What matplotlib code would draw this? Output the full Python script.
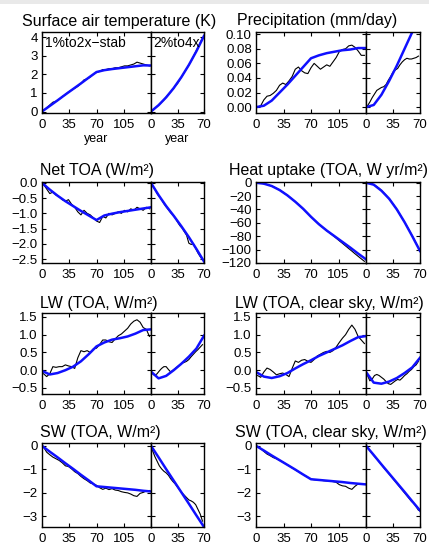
import matplotlib
matplotlib.use("Agg")
import matplotlib.pyplot as plt
from matplotlib.patches import Rectangle

plt.rcParams['font.family'] = ['Liberation Sans', 'DejaVu Sans']

# years: fitted curves every 10 yr, model output every 4 / 3 yr
yr_fit_a = [0, 10, 20, 30, 40, 50, 60, 70, 80, 90, 100, 110, 120, 130, 140]
yr_fit_b = [0, 10, 20, 30, 40, 50, 60, 70]
yr_raw_a = [2, 6, 10, 14, 18, 22, 26, 30, 34, 38, 42, 46, 50, 54, 58, 62, 66, 70,
            74, 78, 82, 86, 90, 94, 98, 102, 106, 110, 114, 118, 122, 126, 130, 134, 138]
yr_raw_b = [2, 5, 8, 11, 14, 17, 20, 23, 26, 29, 32, 35, 38, 41, 44, 47, 50, 53, 56, 59, 62, 65, 68]

# Surface air temperature
tas_fit_a = [0, 0.3, 0.6, 0.91, 1.21, 1.51, 1.82, 2.12, 2.22, 2.28, 2.33, 2.38, 2.43, 2.48, 2.47]
tas_fit_b = [0, 0.34, 0.76, 1.26, 1.84, 2.5, 3.24, 4.06]
tas_raw_a = [0.05, 0.2, 0.35, 0.5, 0.55, 0.65, 0.8, 0.9, 1.05, 1.15, 1.25, 1.35, 1.5, 1.7, 1.75, 1.85, 2.0, 2.1,
             2.15, 2.25, 2.25, 2.3, 2.3, 2.35, 2.35, 2.4, 2.45, 2.45, 2.5, 2.55, 2.65, 2.6, 2.55, 2.5, 2.45]
tas_raw_b = [0.06, 0.16, 0.27, 0.38, 0.5, 0.62, 0.78, 0.92, 1.05, 1.2, 1.38, 1.5, 1.7, 1.9, 2.1, 2.3, 2.5,
             2.7, 2.95, 3.2, 3.45, 3.7, 3.95]

# Precipitation
pr_fit_a = [0, 0.002, 0.009, 0.02, 0.031, 0.043, 0.055, 0.067, 0.071, 0.074, 0.076, 0.078, 0.079, 0.081, 0.081]
pr_fit_b = [0, 0.003, 0.017, 0.036, 0.057, 0.08, 0.103, 0.126]
pr_raw_a = [0.0, 0.002, 0.01, 0.015, 0.016, 0.019, 0.023, 0.03, 0.033, 0.031, 0.036, 0.042, 0.052, 0.055,
            0.05, 0.047, 0.046, 0.054, 0.06, 0.056, 0.052, 0.055, 0.058, 0.056, 0.062, 0.068, 0.076, 0.079,
            0.08, 0.084, 0.085, 0.082, 0.077, 0.071, 0.071]
pr_raw_b = [0.002, 0.007, 0.013, 0.018, 0.023, 0.025, 0.027, 0.028, 0.031, 0.037, 0.042, 0.048, 0.051,
            0.053, 0.058, 0.062, 0.065, 0.067, 0.066, 0.066, 0.067, 0.068, 0.07]

# Net TOA
net_fit_a = [0, -0.22, -0.42, -0.6, -0.76, -0.92, -1.07, -1.22, -1.07, -1.01, -0.96, -0.92, -0.88, -0.84, -0.8]
net_fit_b = [0, -0.4, -0.76, -1.08, -1.42, -1.78, -2.17, -2.58]
net_raw_a = [-0.05, -0.2, -0.35, -0.3, -0.4, -0.45, -0.55, -0.6, -0.55, -0.7, -0.8, -0.95, -1.05, -0.9, -1.0,
             -1.05, -1.15, -1.25, -1.3, -1.1, -1.15, -1.0, -1.05, -1.0, -0.95, -1.0, -0.9, -0.95, -0.85, -0.9,
             -0.8, -0.85, -0.9, -0.8, -0.85]
net_raw_b = [-0.08, -0.2, -0.35, -0.45, -0.55, -0.68, -0.78, -0.88, -0.98, -1.05, -1.15, -1.28, -1.4, -1.48,
             -1.6, -1.72, -1.98, -2.02, -2.0, -2.15, -2.3, -2.42, -2.52]

# Heat uptake
hu_fit_a = [0, -1.5, -5, -11, -19, -28.5, -39, -51, -62, -71.5, -80, -88.5, -97, -106, -114.5]
hu_fit_b = [0, -3, -12, -24, -40, -59, -80, -102]
hu_raw_a = [0, -0.6, -1.5, -2.8, -4.2, -6, -8.4, -11, -14, -17.3, -20.8, -24.6, -28.5, -32.6, -36.8, -41.3,
            -46, -50.8, -55.3, -59.9, -64, -67.8, -71.7, -75.3, -79, -82.8, -86.8, -90.6, -94.5, -98.4,
            -102.2, -106.2, -110, -113.8, -117.5]
hu_raw_b = [-0.1, -0.7, -1.8, -3.6, -5.8, -8.4, -11.6, -15, -18.8, -22.8, -27, -31.6, -36.6, -42, -47.6,
            -53.3, -59, -65, -71, -77.6, -84, -90.6, -97.5]

# LW (TOA)
lw_fit_a = [-0.02, -0.12, -0.08, 0.0, 0.1, 0.25, 0.45, 0.67, 0.78, 0.86, 0.9, 0.95, 1.03, 1.13, 1.15]
lw_fit_b = [-0.04, -0.23, -0.16, 0.0, 0.18, 0.38, 0.61, 0.97]
lw_raw_a = [-0.1, -0.18, -0.1, 0.1, 0.08, 0.1, 0.1, 0.15, 0.12, 0.1, 0.05, 0.35, 0.55, 0.52, 0.55, 0.5, 0.6,
            0.62, 0.72, 0.85, 0.85, 0.8, 0.78, 0.88, 0.97, 1.02, 1.1, 1.18, 1.3, 1.38, 1.42, 1.35, 1.2, 1.15, 0.95]
lw_raw_b = [-0.1, -0.15, -0.1, -0.02, 0.05, 0.1, 0.1, 0.02, -0.05, 0.0, 0.05, 0.1, 0.15, 0.2, 0.22, 0.25,
            0.3, 0.38, 0.45, 0.52, 0.58, 0.65, 0.72]

# LW (TOA, clear sky)
lwcs_fit_a = [-0.05, -0.18, -0.22, -0.17, -0.08, 0.05, 0.17, 0.28, 0.4, 0.5, 0.6, 0.7, 0.82, 0.93, 0.96]
lwcs_fit_b = [-0.05, -0.35, -0.38, -0.32, -0.22, -0.08, 0.08, 0.35]
lwcs_raw_a = [-0.15, -0.2, -0.05, 0.06, 0.02, -0.05, -0.13, -0.1, -0.08, -0.12, -0.18, 0.05, 0.26, 0.22,
              0.28, 0.3, 0.25, 0.22, 0.3, 0.4, 0.45, 0.5, 0.53, 0.5, 0.55, 0.65, 0.78, 0.9, 1.0, 1.15, 1.27,
              1.15, 0.95, 0.85, 0.75]
lwcs_raw_b = [-0.15, -0.3, -0.25, -0.15, -0.12, -0.15, -0.2, -0.25, -0.32, -0.38, -0.4, -0.35, -0.3, -0.26,
              -0.28, -0.22, -0.15, -0.1, -0.03, 0.02, 0.1, 0.15, 0.25]

# SW (TOA)
sw_fit_a = [0, -0.25, -0.49, -0.74, -0.98, -1.23, -1.47, -1.72, -1.75, -1.78, -1.81, -1.84, -1.87, -1.91, -1.94]
sw_fit_b = [0, -0.49, -0.99, -1.48, -1.97, -2.46, -2.96, -3.45]
sw_raw_a = [-0.05, -0.27, -0.38, -0.48, -0.55, -0.62, -0.72, -0.85, -0.88, -0.98, -1.1, -1.18, -1.3, -1.4,
            -1.48, -1.58, -1.62, -1.68, -1.78, -1.85, -1.8, -1.86, -1.82, -1.88, -1.9, -1.95, -1.98, -2.0,
            -2.05, -2.12, -2.15, -2.02, -1.98, -1.92, -1.9]
sw_raw_b = [-0.2, -0.45, -0.65, -0.85, -0.98, -1.08, -1.15, -1.25, -1.4, -1.52, -1.62, -1.75, -1.88, -2.0,
            -2.1, -2.2, -2.3, -2.34, -2.4, -2.5, -2.7, -2.9, -3.2]

# SW (TOA, clear sky)
swcs_fit_a = [0, -0.2, -0.41, -0.61, -0.81, -1.01, -1.22, -1.42, -1.45, -1.48, -1.51, -1.54, -1.58, -1.61, -1.64]
swcs_fit_b = [0, -0.39, -0.79, -1.18, -1.57, -1.96, -2.36, -2.75]
swcs_raw_a = [-0.04, -0.12, -0.24, -0.35, -0.42, -0.5, -0.55, -0.62, -0.69, -0.77, -0.85, -0.94, -1.02,
              -1.1, -1.18, -1.26, -1.34, -1.42, -1.44, -1.45, -1.46, -1.48, -1.49, -1.5, -1.52, -1.55,
              -1.65, -1.7, -1.72, -1.8, -1.85, -1.72, -1.62, -1.62, -1.64]
swcs_raw_b = [-0.08, -0.2, -0.33, -0.45, -0.56, -0.68, -0.8, -0.93, -1.05, -1.16, -1.28, -1.4, -1.52, -1.64,
              -1.76, -1.88, -2.0, -2.12, -2.24, -2.36, -2.44, -2.58, -2.74]

# tick labels
xticks_a = [0, 35, 70, 105]
xticks_b = [0, 35, 70]
tas_ticks = [0, 1, 2, 3, 4]
pr_ticks = [0.0, 0.02, 0.04, 0.06, 0.08, 0.10]
net_ticks = [0.0, -0.5, -1.0, -1.5, -2.0, -2.5]
hu_ticks = [0, -20, -40, -60, -80, -100, -120]
lw_ticks = [-0.5, 0.0, 0.5, 1.0, 1.5]
sw_ticks = [0, -1, -2, -3]

W, H = 429, 547
COL1 = (42, 151, 204)
COL2 = (256, 366, 420)
ROWS = [(32, 113), (182, 263), (313, 394), (443, 527)]


def px_axes(fig, x0, x1, ytop, ybot):
    return fig.add_axes([x0 / W, 1 - ybot / H, (x1 - x0) / W, (ybot - ytop) / H])


def style(ax):
    for s in ax.spines.values():
        s.set_linewidth(1.0)
        s.set_color('black')
    ax.tick_params(direction='in', length=3, width=0.8, top=True, right=True,
                   labelsize=9.5)
    ax.tick_params(axis='x', pad=4)
    ax.tick_params(axis='y', pad=3)


def panel(fig, col, row, title, tpos, raw_a, fit_a, raw_b, fit_b, ylim, yticks, fmt):
    x0, xs, x1 = col
    ytop, ybot = row
    ax_a = px_axes(fig, x0, xs, ytop, ybot)
    ax_b = px_axes(fig, xs, x1, ytop, ybot)

    ax_a.plot(yr_raw_a, raw_a, color='black', lw=0.8)
    ax_a.plot(yr_fit_a, fit_a, color='#1010ff', lw=1.8)
    ax_b.plot(yr_raw_b, raw_b, color='black', lw=0.8)
    ax_b.plot(yr_fit_b, fit_b, color='#1010ff', lw=1.8)

    ax_a.set_xlim(0, 140)
    ax_b.set_xlim(0, 70)
    for ax in (ax_a, ax_b):
        ax.set_ylim(*ylim)
        ax.set_yticks(yticks)
        style(ax)
    ax_a.set_xticks(xticks_a)
    ax_a.set_xticklabels([str(t) for t in xticks_a])
    ax_b.set_xticks(xticks_b)
    ax_b.set_xticklabels([str(t) for t in xticks_b])
    ax_a.set_yticklabels([fmt.format(t).replace('-', '\u2212') for t in yticks])
    ax_b.set_yticklabels([])

    fig.text(tpos[0] / W, 1 - tpos[1] / H, title, fontsize=11.5, ha='left', va='baseline')
    return ax_a, ax_b


fig = plt.figure(figsize=(W / 100, H / 100), dpi=100)
fig.add_artist(Rectangle((0, 1 - 4 / H), 1, 4 / H, transform=fig.transFigure,
                         facecolor='#e9e9e9', edgecolor='none'))

panel(fig, COL1, ROWS[0], 'Surface air temperature (K)', (22, 26),
      tas_raw_a, tas_fit_a, tas_raw_b, tas_fit_b, (-0.08, 4.27), tas_ticks, '{:d}')
panel(fig, COL2, ROWS[0], 'Precipitation (mm/day)', (237, 25),
      pr_raw_a, pr_fit_a, pr_raw_b, pr_fit_b, (-0.008, 0.103), pr_ticks, '{:.2f}')
panel(fig, COL1, ROWS[1], 'Net TOA (W/m\u00b2)', (40, 175),
      net_raw_a, net_fit_a, net_raw_b, net_fit_b, (-2.63, 0.03), net_ticks, '{:.1f}')
panel(fig, COL2, ROWS[1], 'Heat uptake (TOA, W yr/m\u00b2)', (229, 175),
      hu_raw_a, hu_fit_a, hu_raw_b, hu_fit_b, (-120, 1), hu_ticks, '{:d}')
panel(fig, COL1, ROWS[2], 'LW (TOA, W/m\u00b2)', (40, 308),
      lw_raw_a, lw_fit_a, lw_raw_b, lw_fit_b, (-0.67, 1.61), lw_ticks, '{:.1f}')
panel(fig, COL2, ROWS[2], 'LW (TOA, clear sky, W/m\u00b2)', (235, 308),
      lwcs_raw_a, lwcs_fit_a, lwcs_raw_b, lwcs_fit_b, (-0.67, 1.61), lw_ticks, '{:.1f}')
panel(fig, COL1, ROWS[3], 'SW (TOA, W/m\u00b2)', (40, 437),
      sw_raw_a, sw_fit_a, sw_raw_b, sw_fit_b, (-3.45, 0.12), sw_ticks, '{:d}')
panel(fig, COL2, ROWS[3], 'SW (TOA, clear sky, W/m\u00b2)', (235, 437),
      swcs_raw_a, swcs_fit_a, swcs_raw_b, swcs_fit_b, (-3.45, 0.12), sw_ticks, '{:d}')

fig.text(45 / W, 1 - 43 / H, '1%to2x\u2212stab', fontsize=10, ha='left', va='center')
fig.text(153 / W, 1 - 43 / H, '2%to4x', fontsize=10, ha='left', va='center')
fig.text(96 / W, 1 - 139 / H, 'year', fontsize=9, ha='center', va='center')
fig.text(177 / W, 1 - 139 / H, 'year', fontsize=9, ha='center', va='center')

fig.savefig('out.png', dpi=100)
